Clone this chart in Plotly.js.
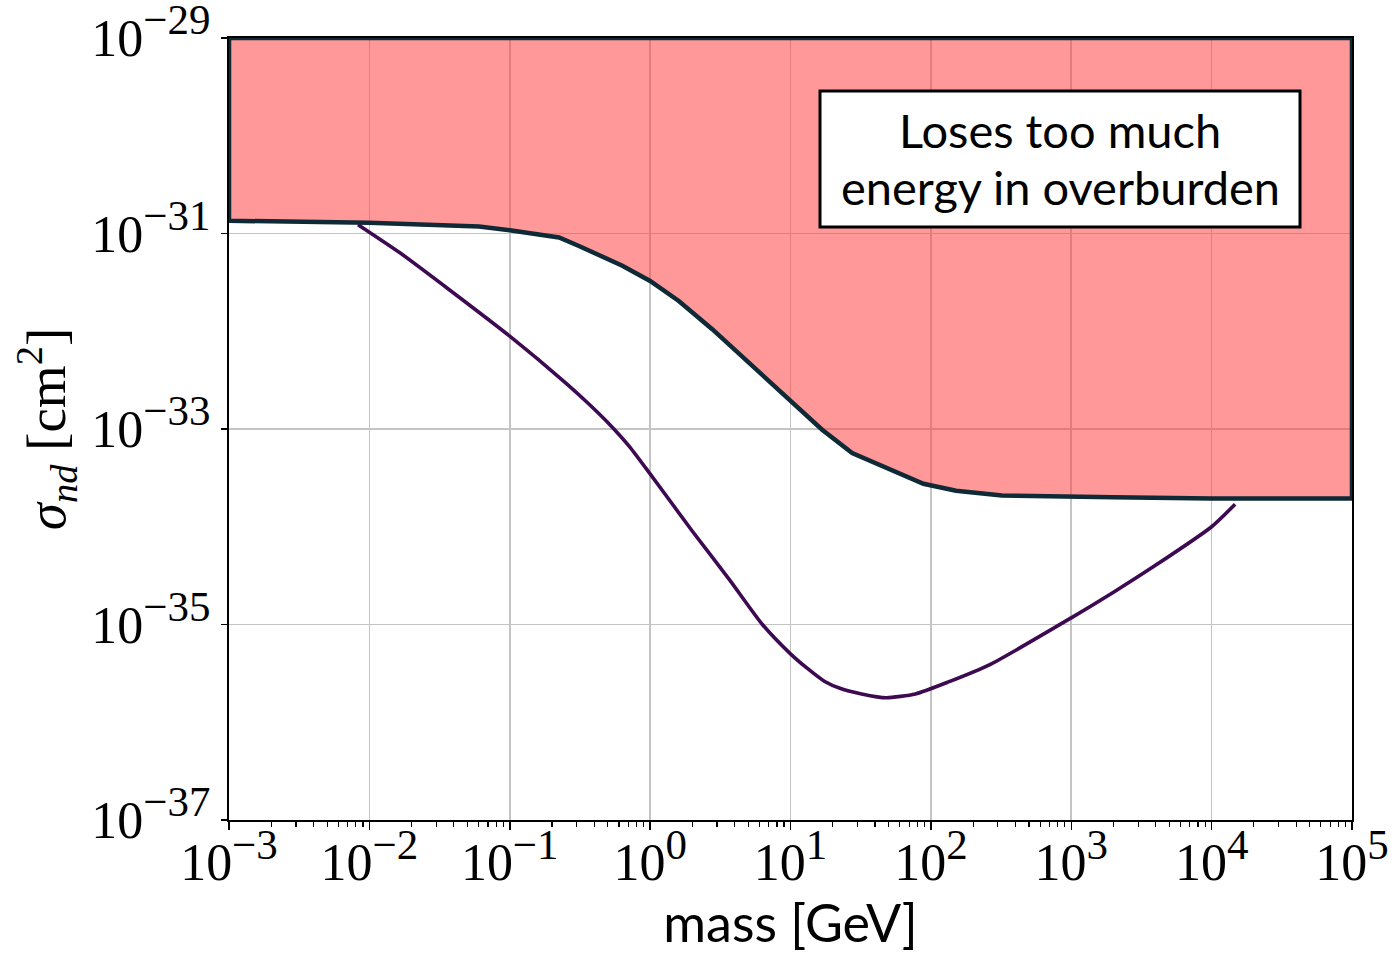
<!DOCTYPE html>
<html>
<head>
<meta charset="utf-8">
<script src="https://cdn.plot.ly/plotly-3.0.1.min.js"></script>
<style>html,body{margin:0;padding:0;background:#fff;}#chart{width:1396px;height:957px;}</style>
</head>
<body>
<div id="chart"></div>
<script>
// Boundary of the excluded region ("loses too much energy in overburden")
const boundaryMass = [1e-3, 0.01, 0.0316, 0.0605, 0.1, 0.2244, 0.311, 0.634, 1, 1.60, 2.77, 4.79, 10, 16.8, 27.5, 42.6, 56.2, 88.5, 151, 321, 2000, 1e4, 1e5];
const boundarySigma = [1.35e-31, 1.29e-31, 1.23e-31, 1.18e-31, 1.08e-31, 9.1e-32, 7.46e-32, 4.68e-32, 3.27e-32, 2.04e-32, 1.05e-32, 5.13e-33, 2.0e-33, 9.84e-34, 5.68e-34, 4.31e-34, 3.67e-34, 2.75e-34, 2.34e-34, 2.09e-34, 2.0e-34, 1.95e-34, 1.95e-34];

// Lower (purple) curve
const curveMass = [0.0083, 0.0166, 0.0375, 0.1, 0.251, 0.355, 0.501, 0.708, 1, 2.0, 3.67, 6.31, 10, 13.2, 17.4, 23.0, 32.1, 47.9, 77.6, 132, 263, 1000, 2000, 3930, 1e4, 14700];
const curveSigma = [1.23e-31, 6.31e-32, 2.63e-32, 8.91e-33, 2.95e-33, 1.88e-33, 1.16e-33, 6.68e-34, 3.47e-34, 9.0e-35, 2.88e-35, 1.0e-35, 5.01e-36, 3.55e-36, 2.63e-36, 2.2e-36, 1.95e-36, 1.78e-36, 1.95e-36, 2.57e-36, 3.89e-36, 1.17e-35, 2.14e-35, 3.98e-35, 1.0e-34, 1.70e-34];

// Axis ranges and ticks
const xRange = [1e-3, 1e5];
const yRange = [1e-37, 1e-29];
const xTickVals = [1e-3, 1e-2, 1e-1, 1e0, 1e1, 1e2, 1e3, 1e4, 1e5];
const xTickExp = ['−3', '−2', '−1', '0', '1', '2', '3', '4', '5'];
const yTickVals = [1e-37, 1e-35, 1e-33, 1e-31, 1e-29];
const yTickExp = ['−37', '−35', '−33', '−31', '−29'];
const boxLines = ['Loses too much', 'energy in overburden'];

const supSize = 43;
const powerLabel = e => '10<sup><span style="font-size:' + supSize + 'px">' + e + '</span></sup>';

const polyX = [xRange[0]].concat(boundaryMass, [xRange[1], xRange[0]]);
const polyY = [yRange[1]].concat(boundarySigma, [yRange[1], yRange[1]]);

const traces = [
  {
    x: polyX, y: polyY, type: 'scatter', mode: 'lines',
    fill: 'toself', fillcolor: 'rgba(255,60,60,0.53)',
    line: {color: '#0d2a36', width: 4.5},
    hoverinfo: 'skip'
  },
  {
    x: curveMass, y: curveSigma, type: 'scatter', mode: 'lines',
    line: {color: '#3d0a52', width: 3.6, shape: 'spline', smoothing: 0.6},
    hoverinfo: 'skip'
  }
];

const serif = 'Liberation Serif, DejaVu Serif, serif';
const sans = 'Lato, Open Sans, sans-serif';

const layout = {
  width: 1396, height: 957,
  margin: {l: 229, r: 44, t: 38, b: 137},
  paper_bgcolor: '#fff', plot_bgcolor: '#fff',
  showlegend: false,
  xaxis: {
    type: 'log',
    range: [Math.log10(xRange[0]), Math.log10(xRange[1])],
    tickvals: xTickVals, ticktext: xTickExp.map(powerLabel),
    tickfont: {family: serif, size: 52, color: '#000'},
    ticks: 'outside', ticklen: 8, tickwidth: 1.5, tickcolor: '#000',
    ticklabelstandoff: -12, ticklabeloverflow: 'allow',
    minor: {ticks: 'outside', ticklen: 5, tickwidth: 1.2, tickcolor: '#000', dtick: 'D1', showgrid: false},
    showgrid: true, gridcolor: '#c4c4c4', gridwidth: 1.6,
    showline: true, linecolor: '#000', linewidth: 2, mirror: true,
    zeroline: false,
    title: {text: 'mass [GeV]', font: {family: sans, size: 52, color: '#000'}, standoff: 4},
    automargin: false
  },
  yaxis: {
    type: 'log',
    range: [Math.log10(yRange[0]), Math.log10(yRange[1])],
    tickvals: yTickVals, ticktext: yTickExp.map(powerLabel),
    tickfont: {family: serif, size: 52, color: '#000'},
    ticks: 'outside', ticklen: 6, tickwidth: 1.5, tickcolor: '#000',
    ticklabeloverflow: 'allow',
    showgrid: true, gridcolor: '#c4c4c4', gridwidth: 1.6,
    showline: true, linecolor: '#000', linewidth: 2, mirror: true,
    zeroline: false,
    title: {text: '<i>σ</i><sub><i>nd</i></sub> [cm<sup>2</sup>]', font: {family: serif, size: 55, color: '#000'}, standoff: 8},
    automargin: false
  },
  shapes: [{
    type: 'rect', xref: 'paper', yref: 'paper',
    x0: (820 - 229) / 1123, x1: (1300 - 229) / 1123,
    y0: (820 - 227) / 782, y1: (820 - 91) / 782,
    fillcolor: '#fff', line: {color: '#000', width: 3}
  }],
  annotations: [
    {xref: 'paper', yref: 'paper', x: (1060 - 229) / 1123, y: (820 - 130) / 782,
     text: boxLines[0], showarrow: false, xanchor: 'center', yanchor: 'middle',
     font: {family: sans, size: 47, color: '#000'}},
    {xref: 'paper', yref: 'paper', x: (1060 - 229) / 1123, y: (820 - 187) / 782,
     text: boxLines[1], showarrow: false, xanchor: 'center', yanchor: 'middle',
     font: {family: sans, size: 47, color: '#000'}}
  ]
};

Plotly.newPlot('chart', traces, layout, {staticPlot: true, displayModeBar: false});
</script>
</body>
</html>
